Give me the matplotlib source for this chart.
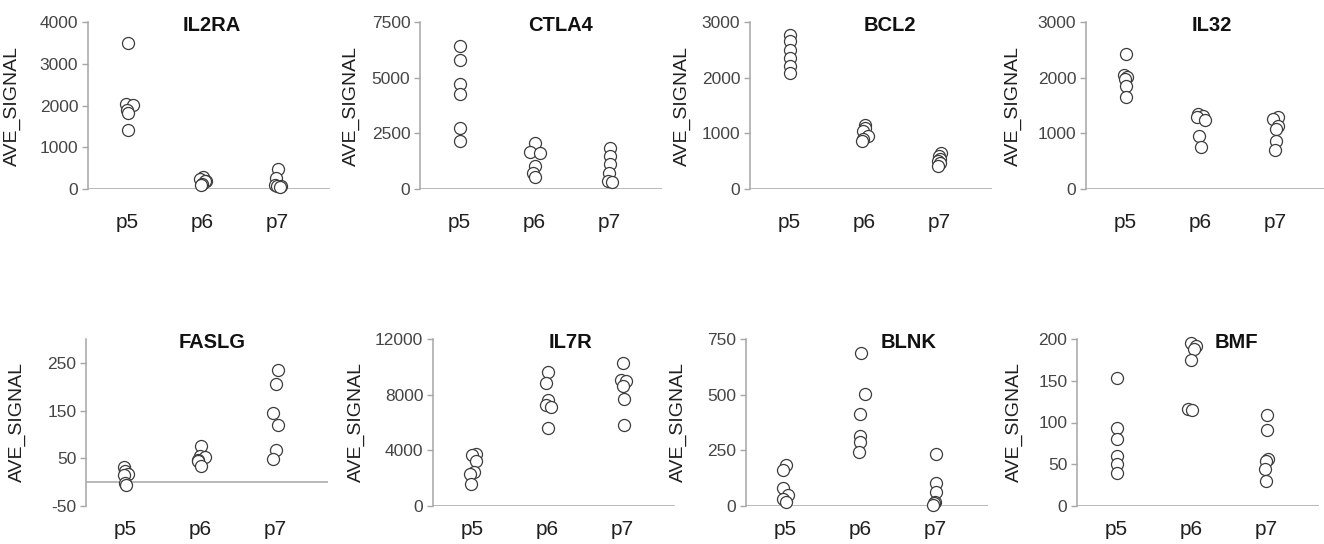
import matplotlib
matplotlib.use("Agg")
import matplotlib.pyplot as plt
import numpy as np

plt.rcParams['font.family'] = ['Liberation Sans', 'DejaVu Sans']
plt.rcParams['axes.unicode_minus'] = False

# groups on the x axis
groups = ["p5", "p6", "p7"]
genes = ["IL2RA", "CTLA4", "BCL2", "IL32", "FASLG", "IL7R", "BLNK", "BMF"]

# AVE_SIGNAL per gene, one list per group (p5, p6, p7)
IL2RA = [[3490, 2030, 2020, 1900, 1830, 1410],
         [290, 250, 200, 180, 120, 100],
         [480, 260, 90, 70, 60, 50]]
CTLA4 = [[6440, 5780, 4700, 4250, 2750, 2160],
         [2050, 1680, 1600, 1050, 730, 550],
         [1860, 1500, 1110, 730, 360, 330]]
BCL2 = [[2770, 2650, 2500, 2350, 2210, 2090],
        [1150, 1090, 1050, 950, 900, 860],
        [640, 590, 540, 500, 460, 410]]
IL32 = [[2430, 2050, 2010, 1980, 1850, 1660],
        [1350, 1320, 1300, 1240, 950, 760],
        [1300, 1250, 1130, 1070, 860, 700]]
FASLG = [[31, 23, 18, 15, -2, -5],
         [76, 55, 52, 47, 44, 33],
         [236, 206, 145, 120, 67, 48]]
IL7R = [[3770, 3650, 3220, 2460, 2270, 1550],
        [9610, 8830, 7590, 7230, 7110, 5610],
        [10280, 9050, 8980, 8590, 7710, 5800]]
BLNK = [[183, 160, 82, 49, 31, 19],
        [687, 504, 411, 313, 288, 243],
        [233, 104, 64, 19, 12, 6]]
BMF = [[153, 93, 80, 60, 50, 39],
       [195, 192, 188, 175, 116, 115],
       [109, 91, 56, 54, 44, 30]]

# small horizontal jitter of each point (in group widths)
IL2RA_dx = [[0, -0.02, 0.07, -0.01, 0.01, 0], [0, -0.03, 0.05, 0.03, -0.01, -0.02], [0.01, -0.02, -0.03, 0.04, -0.01, 0.03]]
CTLA4_dx = [[0, 0, 0, 0, 0, 0], [0, -0.06, 0.07, 0, -0.02, 0], [0, 0, 0, -0.01, -0.02, 0.03]]
BCL2_dx = [[0, 0, 0, 0, 0, 0], [0, 0, -0.02, 0.04, -0.02, -0.04], [0.02, -0.01, 0.01, -0.02, 0, -0.02]]
IL32_dx = [[0, -0.02, 0.02, -0.01, 0.01, 0], [-0.03, 0.03, -0.05, 0.06, -0.02, 0], [0.03, -0.03, 0.03, 0, 0, -0.01]]
FASLG_dx = [[-0.02, -0.01, 0.03, -0.02, -0.01, 0.01], [0, -0.01, 0.06, -0.04, -0.03, 0.01], [0.03, 0, -0.03, 0.03, 0, -0.03]]
IL7R_dx = [[0.04, -0.01, 0.04, 0.02, -0.03, -0.02], [0, -0.02, 0, -0.02, 0.05, 0], [0, -0.02, 0.04, 0, 0.02, 0.02]]
BLNK_dx = [[0.01, -0.03, -0.03, 0.03, -0.03, 0.01], [0, 0.06, -0.01, -0.01, -0.01, -0.02], [0.01, 0.01, 0.01, -0.01, -0.02, -0.04]]
BMF_dx = [[0, 0, 0, 0, 0, 0], [-0.01, 0.06, 0.03, -0.01, -0.05, 0.01], [0.01, 0.01, 0.02, -0.01, -0.02, -0.01]]

values = [IL2RA, CTLA4, BCL2, IL32, FASLG, IL7R, BLNK, BMF]
jitter = [IL2RA_dx, CTLA4_dx, BCL2_dx, IL32_dx, FASLG_dx, IL7R_dx, BLNK_dx, BMF_dx]

# y axis ranges and tick steps
y_min = [0, 0, 0, 0, -50, 0, 0, 0]
y_max = [4000, 7500, 3000, 3000, 300, 12000, 750, 200]
y_ticks = [np.arange(0, 4001, 1000), np.arange(0, 7501, 2500), np.arange(0, 3001, 1000),
           np.arange(0, 3001, 1000), np.arange(-50, 251, 100), np.arange(0, 12001, 4000),
           np.arange(0, 751, 250), np.arange(0, 201, 50)]

# layout in pixels
W, H = 1324, 544
ax_left = [88, 420, 750, 1086, 86, 433, 746, 1077]
ax_top = [22, 22, 22, 22, 339, 339, 339, 339]
ax_w, ax_h = 242, 167
label_x = [21, 360, 691, 1022, 26, 365, 687, 1023]
title_x = [0.51, 0.58, 0.58, 0.52, 0.52, 0.57, 0.67, 0.66]
xpad = [17, 17, 17, 17, 10, 10, 10, 10]

fig = plt.figure(figsize=(W / 100, H / 100), dpi=100)
grey = "#a6a6a6"

for i, gene in enumerate(genes):
    l = ax_left[i]
    t = ax_top[i]
    ax = fig.add_axes([l / W, 1 - (t + ax_h) / H, ax_w / W, ax_h / H])
    for g in range(3):
        xs = [g + 1 + d for d in jitter[i][g]]
        ax.scatter(xs, values[i][g], s=75, facecolors="white", edgecolors="#3c3c3c",
                   linewidths=0.9, zorder=3, clip_on=False)
    ax.axhline(0, color=grey, lw=1.1, zorder=1)
    ax.set_xlim(0.47, 3.7)
    ax.set_ylim(y_min[i], y_max[i])
    ax.set_yticks(y_ticks[i])
    ax.set_xticks([1, 2, 3])
    ax.set_xticklabels(groups)
    for s in ["top", "right", "bottom"]:
        ax.spines[s].set_visible(False)
    ax.spines["left"].set_color(grey)
    ax.spines["left"].set_linewidth(1.1)
    ax.tick_params(axis="y", length=4, width=1, color=grey, labelsize=12.5,
                   labelcolor="#454545", pad=3)
    ax.tick_params(axis="x", length=0, labelsize=15, labelcolor="#202020", pad=xpad[i])
    ax.set_ylabel("AVE_SIGNAL", fontsize=14, color="#202020")
    ax.yaxis.set_label_coords(-(l - label_x[i]) / ax_w, 0.5)
    ax.text(title_x[i], 0.98, gene, transform=ax.transAxes, ha="center", va="center",
            fontsize=14.5, fontweight="bold", color="#111111")

fig.savefig("out.png", dpi=100)
